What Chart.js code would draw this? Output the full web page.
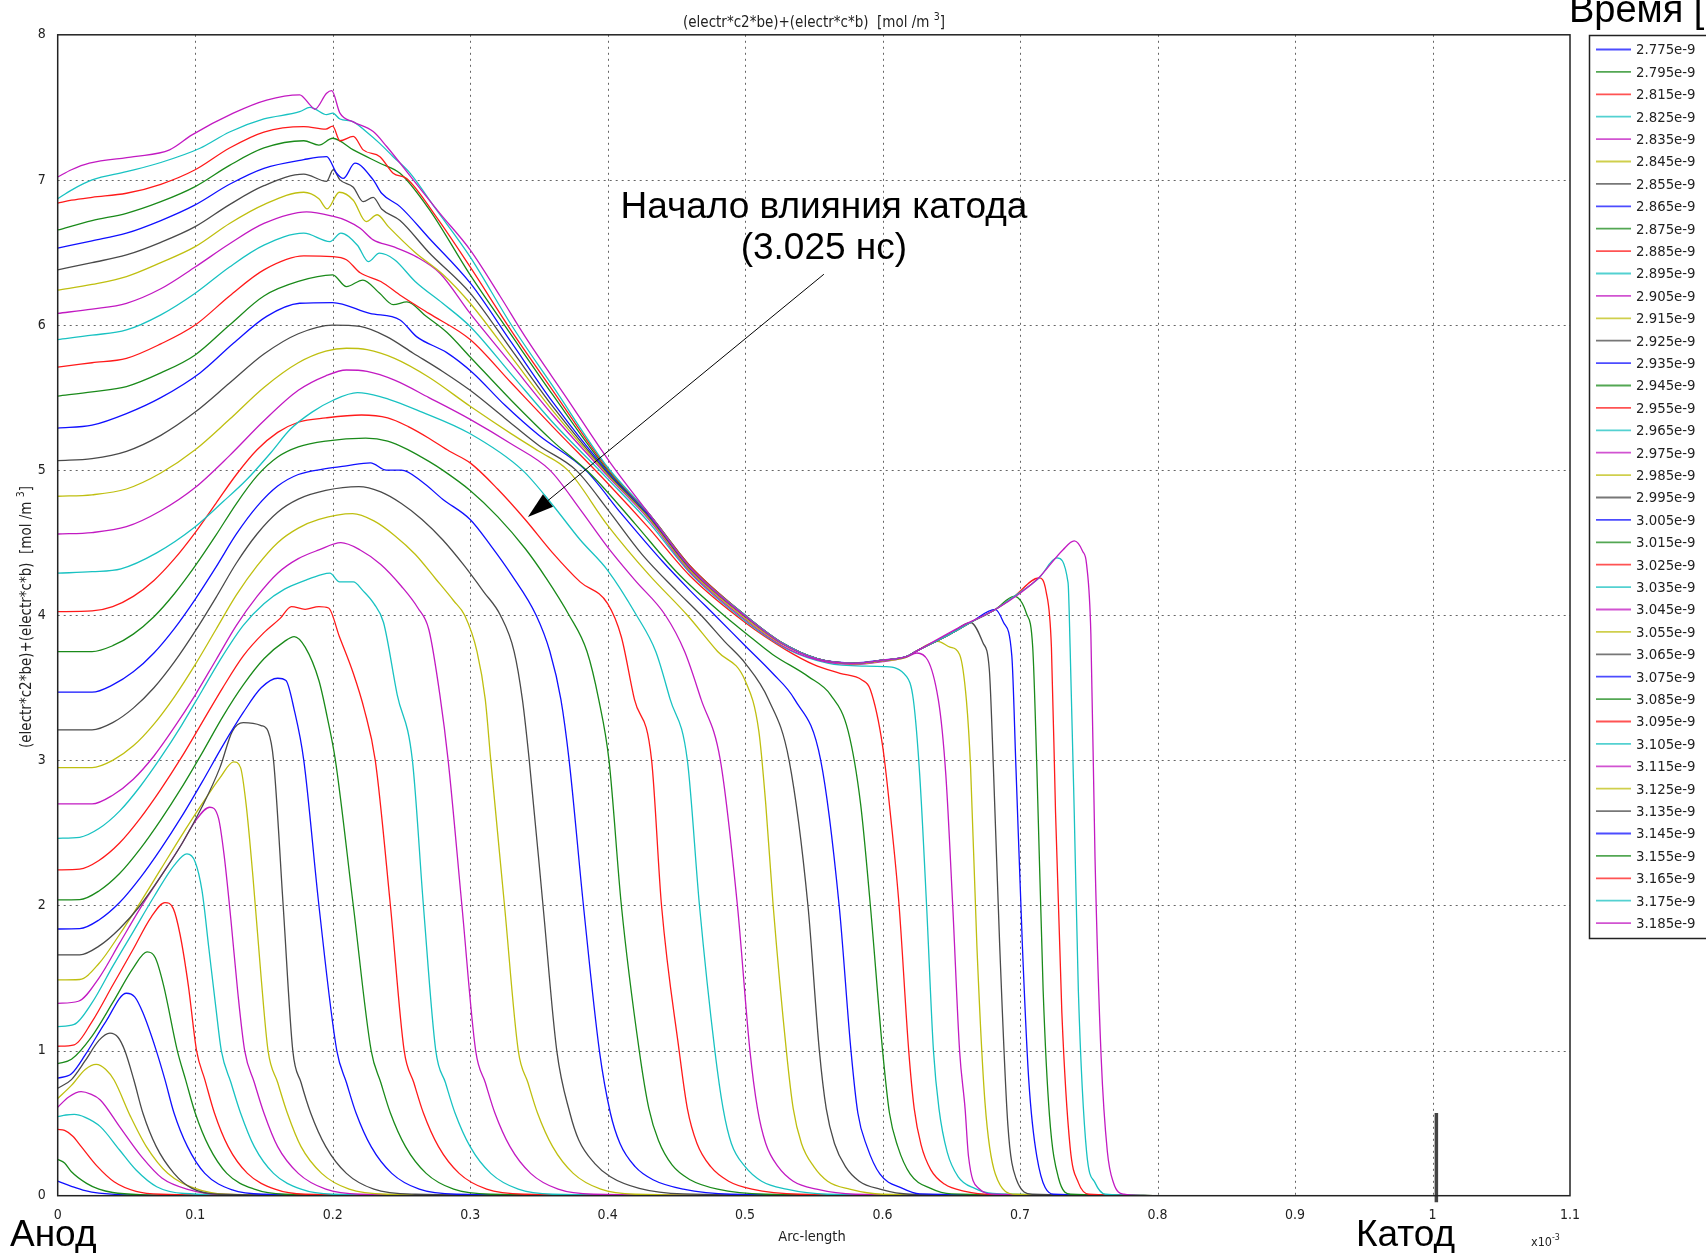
<!DOCTYPE html>
<html>
<head>
<meta charset="utf-8">
<script src="https://cdn.jsdelivr.net/npm/chart.js@4.4.1/dist/chart.umd.min.js"></script>
<style>
  html, body { margin: 0; padding: 0; background: #fff; overflow: hidden; }
</style>
</head>
<body>
<canvas id="plot" width="1706" height="1253"></canvas>
<script>
/* ---------- legend labels (time, s) ---------- */
const times = [
  "2.775e-9", "2.795e-9", "2.815e-9", "2.825e-9", "2.835e-9", "2.845e-9", "2.855e-9",
  "2.865e-9", "2.875e-9", "2.885e-9", "2.895e-9", "2.905e-9", "2.915e-9", "2.925e-9",
  "2.935e-9", "2.945e-9", "2.955e-9", "2.965e-9", "2.975e-9", "2.985e-9", "2.995e-9",
  "3.005e-9", "3.015e-9", "3.025e-9", "3.035e-9", "3.045e-9", "3.055e-9", "3.065e-9",
  "3.075e-9", "3.085e-9", "3.095e-9", "3.105e-9", "3.115e-9", "3.125e-9", "3.135e-9",
  "3.145e-9", "3.155e-9", "3.165e-9", "3.175e-9", "3.185e-9"
];

// b g r c m y k, same cycle as the original plot
const palette = ["#1010ff", "#1a8a1a", "#ff1a1a", "#19c2c2", "#c21ac2", "#bfbf10", "#4a4a4a"];

/* ---------- curves: [arc-length x1e-3, value] ---------- */
const t2775 = [[0,0.10],[0.01,0.065],[0.02,0.035],[0.03,0.018],[0.05,0.006],[0.1,0.002],[0.16,0]];
const t2795 = [[0,0.25],[0.005,0.225],[0.01,0.165],[0.021,0.085],[0.03,0.045],[0.04,0.022],[0.06,0.008],[0.12,0.002],[0.2,0]];
const t2815 = [[0,0.457],[0.005,0.45],[0.011,0.41],[0.017,0.34],[0.029,0.2],[0.041,0.096],[0.057,0.03],[0.075,0.01],[0.15,0.002],[0.24,0]];
const t2825 = [[0,0.545],[0.006,0.556],[0.012,0.56],[0.02,0.54],[0.031,0.476],[0.045,0.315],[0.057,0.177],[0.072,0.062],[0.092,0.015],[0.15,0.003],[0.26,0]];
const t2835 = [[0,0.61],[0.008,0.68],[0.017,0.717],[0.024,0.7],[0.031,0.66],[0.045,0.476],[0.061,0.269],[0.076,0.12],[0.096,0.04],[0.115,0.01],[0.2,0.002],[0.3,0]];
const t2845 = [[0,0.67],[0.01,0.76],[0.02,0.87],[0.028,0.905],[0.035,0.87],[0.041,0.797],[0.053,0.545],[0.0645,0.338],[0.08,0.154],[0.1,0.05],[0.122,0.01],[0.2,0.002],[0.32,0]];
const t2855 = [[0,0.74],[0.01,0.8],[0.02,0.93],[0.03,1.07],[0.038,1.12],[0.044,1.09],[0.0488,1.0],[0.0554,0.797],[0.062,0.568],[0.0717,0.338],[0.0846,0.154],[0.0977,0.05],[0.117,0.01],[0.2,0.002],[0.34,0]];
const t2865 = [[0,0.81],[0.01,0.84],[0.02,0.97],[0.035,1.2],[0.05,1.395],[0.056,1.37],[0.062,1.26],[0.0717,1.0],[0.078,0.8],[0.0846,0.57],[0.0944,0.338],[0.107,0.154],[0.127,0.04],[0.15,0.01],[0.25,0.002],[0.36,0]];
const t2875 = [[0,0.91],[0.01,0.94],[0.025,1.1],[0.04,1.33],[0.055,1.57],[0.065,1.68],[0.071,1.64],[0.077,1.45],[0.087,1.0],[0.093,0.8],[0.1,0.57],[0.11,0.338],[0.123,0.154],[0.143,0.045],[0.165,0.01],[0.25,0.002],[0.38,0]];
const t2885 = [[0,1.03],[0.012,1.04],[0.025,1.2],[0.04,1.45],[0.055,1.7],[0.068,1.92],[0.078,2.02],[0.084,1.98],[0.089,1.8],[0.095,1.45],[0.101,1.0],[0.107,0.8],[0.114,0.57],[0.124,0.338],[0.138,0.154],[0.158,0.045],[0.18,0.01],[0.28,0.002],[0.4,0]];
const t2895 = [[0,1.165],[0.012,1.18],[0.025,1.33],[0.04,1.58],[0.055,1.82],[0.07,2.06],[0.085,2.28],[0.094,2.355],[0.1,2.3],[0.105,2.1],[0.11,1.7],[0.115,1.3],[0.119,1.0],[0.126,0.78],[0.133,0.57],[0.143,0.338],[0.157,0.154],[0.177,0.045],[0.2,0.01],[0.3,0.002],[0.42,0]];
const t2905 = [[0,1.326],[0.015,1.34],[0.03,1.5],[0.045,1.74],[0.06,1.98],[0.075,2.2],[0.09,2.42],[0.1,2.58],[0.1106,2.677],[0.117,2.6],[0.121,2.35],[0.126,1.9],[0.131,1.4],[0.136,1.0],[0.143,0.78],[0.15,0.57],[0.16,0.338],[0.175,0.154],[0.195,0.045],[0.22,0.01],[0.32,0.002],[0.44,0]];
const t2915 = [[0,1.487],[0.016,1.49],[0.03,1.6],[0.045,1.8],[0.06,2.02],[0.075,2.25],[0.09,2.48],[0.105,2.7],[0.118,2.88],[0.128,2.99],[0.133,2.95],[0.137,2.7],[0.142,2.2],[0.148,1.5],[0.153,1.0],[0.16,0.78],[0.167,0.57],[0.177,0.338],[0.192,0.154],[0.212,0.045],[0.24,0.01],[0.34,0.002],[0.46,0]];
const t2925 = [[0,1.66],[0.016,1.66],[0.03,1.72],[0.045,1.84],[0.06,2.0],[0.075,2.2],[0.09,2.42],[0.105,2.68],[0.118,2.95],[0.127,3.2],[0.135,3.26],[0.148,3.24],[0.153,3.2],[0.157,3.0],[0.164,2.0],[0.171,1.0],[0.177,0.78],[0.184,0.57],[0.195,0.338],[0.21,0.154],[0.23,0.045],[0.26,0.01],[0.36,0.002],[0.48,0]];
const t2935 = [[0,1.838],[0.016,1.84],[0.03,1.9],[0.045,2.02],[0.06,2.19],[0.075,2.39],[0.09,2.61],[0.105,2.85],[0.12,3.1],[0.135,3.33],[0.148,3.5],[0.16,3.566],[0.166,3.55],[0.172,3.35],[0.179,3.0],[0.19,2.0],[0.203,1.0],[0.21,0.78],[0.217,0.57],[0.228,0.338],[0.243,0.154],[0.263,0.045],[0.29,0.01],[0.4,0.002],[0.5,0]];
const t2945 = [[0,2.038],[0.016,2.04],[0.03,2.1],[0.045,2.22],[0.06,2.39],[0.075,2.59],[0.09,2.81],[0.105,3.05],[0.12,3.3],[0.135,3.52],[0.15,3.7],[0.165,3.82],[0.172,3.853],[0.18,3.78],[0.19,3.55],[0.196,3.3],[0.202,3.0],[0.215,2.0],[0.228,1.0],[0.235,0.78],[0.242,0.57],[0.253,0.338],[0.268,0.154],[0.288,0.045],[0.315,0.01],[0.42,0.002],[0.52,0]];
const t2955 = [[0,2.245],[0.016,2.25],[0.03,2.31],[0.045,2.43],[0.06,2.6],[0.075,2.8],[0.09,3.02],[0.105,3.26],[0.12,3.5],[0.135,3.72],[0.15,3.88],[0.162,3.98],[0.17,4.06],[0.18,4.04],[0.19,4.06],[0.197,4.05],[0.205,3.85],[0.215,3.6],[0.223,3.35],[0.231,3.0],[0.242,2.0],[0.252,1.0],[0.259,0.78],[0.266,0.57],[0.277,0.338],[0.292,0.154],[0.312,0.045],[0.34,0.01],[0.44,0.002],[0.54,0]];
const t2965 = [[0,2.463],[0.016,2.47],[0.03,2.53],[0.045,2.65],[0.06,2.82],[0.075,3.02],[0.09,3.24],[0.105,3.48],[0.12,3.72],[0.135,3.93],[0.15,4.08],[0.165,4.18],[0.18,4.24],[0.192,4.28],[0.198,4.29],[0.205,4.23],[0.215,4.23],[0.222,4.17],[0.23,4.08],[0.237,3.95],[0.247,3.45],[0.258,3.0],[0.266,2.0],[0.275,1.0],[0.282,0.78],[0.289,0.57],[0.3,0.338],[0.315,0.154],[0.335,0.045],[0.36,0.01],[0.46,0.002],[0.56,0]];
const t2975 = [[0,2.7],[0.025,2.7],[0.04,2.76],[0.055,2.87],[0.07,3.03],[0.085,3.23],[0.1,3.45],[0.115,3.69],[0.13,3.93],[0.145,4.13],[0.16,4.29],[0.175,4.39],[0.19,4.45],[0.206,4.5],[0.22,4.45],[0.235,4.35],[0.25,4.2],[0.262,4.05],[0.27,3.9],[0.278,3.45],[0.284,3.0],[0.294,2.0],[0.304,1.0],[0.311,0.78],[0.318,0.57],[0.329,0.338],[0.344,0.154],[0.364,0.045],[0.39,0.01],[0.5,0.002],[0.6,0]];
const t2985 = [[0,2.95],[0.025,2.95],[0.04,3.0],[0.055,3.1],[0.07,3.25],[0.085,3.44],[0.1,3.66],[0.115,3.9],[0.13,4.14],[0.145,4.34],[0.16,4.5],[0.175,4.6],[0.19,4.66],[0.2145,4.7],[0.23,4.65],[0.245,4.55],[0.26,4.42],[0.275,4.25],[0.288,4.1],[0.296,4.0],[0.305,3.75],[0.311,3.42],[0.315,3.0],[0.325,2.0],[0.335,1.0],[0.342,0.78],[0.349,0.57],[0.36,0.338],[0.375,0.154],[0.395,0.045],[0.42,0.01],[0.52,0.002],[0.62,0]];
const t2995 = [[0,3.21],[0.025,3.21],[0.04,3.26],[0.055,3.36],[0.07,3.5],[0.085,3.68],[0.1,3.89],[0.115,4.12],[0.13,4.36],[0.145,4.56],[0.16,4.71],[0.175,4.8],[0.195,4.86],[0.219,4.886],[0.235,4.85],[0.25,4.77],[0.265,4.66],[0.28,4.52],[0.295,4.35],[0.31,4.16],[0.322,4.0],[0.332,3.75],[0.338,3.42],[0.343,3.0],[0.353,2.0],[0.363,1.0],[0.3726,0.568],[0.379,0.384],[0.3905,0.223],[0.402,0.131],[0.423,0.051],[0.455,0.012],[0.55,0.002],[0.65,0]];
const t3005 = [[0,3.47],[0.025,3.47],[0.04,3.52],[0.055,3.61],[0.07,3.74],[0.085,3.91],[0.1,4.11],[0.115,4.33],[0.13,4.56],[0.145,4.75],[0.16,4.89],[0.175,4.97],[0.195,5.01],[0.21,5.03],[0.2275,5.05],[0.239,5.0],[0.25,5.0],[0.265,4.92],[0.28,4.8],[0.3,4.66],[0.315,4.48],[0.33,4.28],[0.348,4.0],[0.358,3.75],[0.366,3.42],[0.372,3.0],[0.3824,2.0],[0.394,1.0],[0.402,0.57],[0.409,0.36],[0.42,0.2],[0.433,0.11],[0.455,0.045],[0.49,0.01],[0.6,0.002],[0.68,0]];
const t3015 = [[0,3.75],[0.025,3.75],[0.04,3.79],[0.055,3.87],[0.07,3.99],[0.085,4.15],[0.1,4.34],[0.115,4.55],[0.13,4.77],[0.145,4.96],[0.16,5.09],[0.175,5.16],[0.195,5.2],[0.224,5.22],[0.24,5.2],[0.255,5.14],[0.27,5.06],[0.28,5.0],[0.3,4.86],[0.32,4.68],[0.34,4.46],[0.355,4.26],[0.372,4.0],[0.385,3.75],[0.3935,3.42],[0.401,3.0],[0.41,2.0],[0.423,1.0],[0.43,0.6],[0.437,0.38],[0.447,0.21],[0.46,0.11],[0.48,0.045],[0.515,0.01],[0.62,0.002],[0.7,0]];
const t3025 = [[0,4.025],[0.025,4.03],[0.04,4.06],[0.055,4.13],[0.07,4.24],[0.085,4.39],[0.1,4.57],[0.115,4.77],[0.13,4.97],[0.145,5.14],[0.16,5.26],[0.175,5.33],[0.195,5.36],[0.221,5.38],[0.24,5.36],[0.255,5.3],[0.27,5.22],[0.285,5.13],[0.3,5.05],[0.32,4.87],[0.34,4.66],[0.36,4.43],[0.38,4.23],[0.4,4.08],[0.41,3.85],[0.4195,3.42],[0.432,3.0],[0.4392,2.0],[0.452,1.0],[0.458,0.6],[0.465,0.36],[0.475,0.2],[0.488,0.1],[0.505,0.045],[0.54,0.01],[0.64,0.002],[0.72,0]];
const t3035 = [[0,4.29],[0.025,4.3],[0.046,4.32],[0.072,4.43],[0.1,4.61],[0.12,4.78],[0.137,4.93],[0.155,5.12],[0.169,5.28],[0.185,5.4],[0.2,5.48],[0.218,5.534],[0.2345,5.507],[0.265,5.4],[0.2994,5.254],[0.338,5.0],[0.36,4.76],[0.38,4.52],[0.4,4.31],[0.421,4.0],[0.435,3.75],[0.4455,3.42],[0.458,3.0],[0.4668,2.0],[0.478,1.0],[0.484,0.6],[0.49,0.36],[0.5,0.2],[0.512,0.1],[0.53,0.045],[0.56,0.01],[0.66,0.002],[0.74,0]];
const t3045 = [[0,4.56],[0.025,4.57],[0.05,4.61],[0.075,4.72],[0.1,4.88],[0.125,5.1],[0.15,5.34],[0.175,5.55],[0.195,5.65],[0.21,5.69],[0.225,5.68],[0.245,5.62],[0.27,5.5],[0.3,5.35],[0.33,5.18],[0.358,5.0],[0.38,4.73],[0.4,4.47],[0.42,4.24],[0.442,4.0],[0.456,3.75],[0.468,3.42],[0.482,3.0],[0.4944,2.0],[0.5035,1.0],[0.509,0.6],[0.515,0.36],[0.524,0.2],[0.535,0.1],[0.552,0.045],[0.58,0.01],[0.68,0.002],[0.76,0]];
const t3055 = [[0,4.82],[0.025,4.83],[0.05,4.87],[0.075,4.98],[0.1,5.14],[0.125,5.35],[0.15,5.57],[0.175,5.74],[0.195,5.82],[0.21,5.84],[0.225,5.83],[0.245,5.77],[0.27,5.64],[0.3,5.44],[0.33,5.25],[0.35,5.13],[0.371,5.0],[0.4,4.62],[0.43,4.28],[0.458,4.0],[0.48,3.75],[0.5,3.55],[0.51,3.2],[0.515,2.7],[0.5204,2.0],[0.53,1.0],[0.535,0.6],[0.541,0.36],[0.55,0.2],[0.56,0.1],[0.576,0.045],[0.6,0.01],[0.7,0.002],[0.77,0]];
const t3065 = [[0,5.066],[0.025,5.08],[0.05,5.13],[0.075,5.24],[0.1,5.4],[0.125,5.6],[0.15,5.8],[0.175,5.94],[0.2,6.0],[0.22,5.99],[0.2393,5.92],[0.2586,5.806],[0.28,5.68],[0.3,5.55],[0.325,5.36],[0.35,5.17],[0.377,5.0],[0.4,4.73],[0.425,4.42],[0.45,4.17],[0.468,4.0],[0.485,3.82],[0.5,3.67],[0.517,3.42],[0.532,3.0],[0.5457,2.0],[0.554,1.0],[0.559,0.6],[0.565,0.36],[0.573,0.2],[0.583,0.1],[0.598,0.045],[0.62,0.01],[0.72,0.002],[0.78,0]];
const t3075 = [[0,5.29],[0.025,5.31],[0.05,5.39],[0.075,5.5],[0.1035,5.67],[0.128,5.876],[0.152,6.06],[0.176,6.15],[0.2,6.155],[0.227,6.08],[0.249,6.035],[0.261,5.92],[0.283,5.81],[0.302,5.67],[0.325,5.45],[0.35,5.24],[0.384,5.0],[0.41,4.7],[0.44,4.37],[0.46,4.17],[0.478,4.0],[0.5,3.79],[0.52,3.6],[0.536,3.42],[0.555,3.0],[0.5684,2.0],[0.577,1.0],[0.582,0.57],[0.5886,0.34],[0.598,0.15],[0.6145,0.05],[0.627,0.012],[0.72,0.002],[0.78,0]];
const t3085 = [[0,5.51],[0.025,5.54],[0.05,5.576],[0.075,5.67],[0.1,5.794],[0.125,6.0],[0.15,6.2],[0.175,6.3],[0.2,6.345],[0.21,6.265],[0.222,6.31],[0.234,6.22],[0.244,6.14],[0.254,6.16],[0.268,6.06],[0.283,5.95],[0.3,5.78],[0.33,5.48],[0.36,5.2],[0.389,4.96],[0.42,4.63],[0.45,4.3],[0.4845,4.0],[0.5,3.88],[0.52,3.73],[0.546,3.577],[0.5623,3.45],[0.575,3.2],[0.584,2.7],[0.5911,2.0],[0.6,1.0],[0.605,0.57],[0.611,0.34],[0.62,0.15],[0.635,0.05],[0.65,0.012],[0.74,0.002],[0.79,0]];
const t3095 = [[0,5.71],[0.025,5.74],[0.05,5.77],[0.075,5.87],[0.1,6.0],[0.125,6.2],[0.15,6.38],[0.179,6.476],[0.2,6.472],[0.21,6.45],[0.22,6.36],[0.235,6.3],[0.25,6.2],[0.27,6.08],[0.3,5.9],[0.33,5.6],[0.36,5.3],[0.4,4.91],[0.43,4.6],[0.46,4.27],[0.5,3.95],[0.53,3.76],[0.55,3.66],[0.569,3.6],[0.585,3.554],[0.591,3.49],[0.6,3.1],[0.606,2.6],[0.612,2.0],[0.619,1.0],[0.623,0.6],[0.628,0.35],[0.635,0.18],[0.645,0.08],[0.66,0.03],[0.68,0.008],[0.76,0.002],[0.8,0]];
const t3105 = [[0,5.9],[0.025,5.93],[0.05,5.966],[0.075,6.07],[0.1,6.219],[0.125,6.4],[0.15,6.55],[0.179,6.633],[0.198,6.575],[0.206,6.633],[0.218,6.55],[0.226,6.437],[0.234,6.495],[0.245,6.45],[0.26,6.3],[0.28,6.15],[0.3,5.99],[0.33,5.66],[0.36,5.33],[0.4,4.94],[0.43,4.64],[0.46,4.29],[0.5,3.96],[0.53,3.77],[0.56,3.67],[0.585,3.65],[0.6013,3.646],[0.6175,3.577],[0.6224,3.416],[0.627,2.9],[0.632,2.0],[0.637,1.0],[0.641,0.6],[0.647,0.3],[0.655,0.13],[0.667,0.05],[0.68,0.015],[0.76,0.002],[0.8,0]];
const t3115 = [[0,6.08],[0.025,6.11],[0.05,6.15],[0.075,6.25],[0.1,6.4],[0.125,6.56],[0.15,6.7],[0.181,6.78],[0.2,6.75],[0.21,6.72],[0.22,6.667],[0.2295,6.587],[0.244,6.54],[0.261,6.47],[0.278,6.357],[0.3,6.08],[0.33,5.73],[0.36,5.38],[0.4,4.96],[0.43,4.66],[0.46,4.3],[0.5,3.97],[0.527,3.79],[0.553,3.69],[0.58,3.66],[0.6,3.68],[0.617,3.71],[0.625,3.74],[0.6405,3.42],[0.646,2.9],[0.651,2.0],[0.656,1.0],[0.66,0.6],[0.6625,0.27],[0.67,0.05],[0.682,0.01],[0.76,0.002],[0.8,0]];
const t3125 = [[0,6.24],[0.025,6.28],[0.05,6.334],[0.075,6.43],[0.1,6.54],[0.125,6.7],[0.15,6.83],[0.179,6.915],[0.19,6.87],[0.196,6.8],[0.2048,6.915],[0.215,6.86],[0.2243,6.713],[0.2324,6.76],[0.2405,6.678],[0.26,6.5],[0.28,6.35],[0.3,6.15],[0.33,5.78],[0.36,5.41],[0.4,4.97],[0.43,4.67],[0.46,4.31],[0.5,3.98],[0.527,3.8],[0.553,3.7],[0.58,3.665],[0.6,3.685],[0.617,3.71],[0.624,3.75],[0.64,3.82],[0.649,3.78],[0.656,3.73],[0.661,3.41],[0.664,2.95],[0.6686,1.72],[0.6745,0.64],[0.682,0.15],[0.697,0.01],[0.76,0.002],[0.8,0]];
const t3135 = [[0,6.38],[0.025,6.43],[0.05,6.483],[0.075,6.57],[0.1,6.678],[0.125,6.83],[0.15,6.96],[0.179,7.04],[0.1956,6.99],[0.2004,7.07],[0.2053,7.0],[0.215,6.95],[0.2222,6.85],[0.2295,6.88],[0.2356,6.8],[0.249,6.72],[0.27,6.5],[0.3,6.22],[0.33,5.83],[0.36,5.44],[0.4,4.98],[0.43,4.68],[0.46,4.32],[0.5,3.99],[0.527,3.805],[0.553,3.7],[0.58,3.67],[0.6,3.69],[0.617,3.715],[0.624,3.75],[0.649,3.87],[0.664,3.95],[0.673,3.81],[0.6776,3.63],[0.6806,2.95],[0.6852,1.72],[0.6911,0.49],[0.697,0.12],[0.709,0.01],[0.78,0.002],[0.8,0]];
const t3145 = [[0,6.53],[0.025,6.58],[0.05,6.633],[0.075,6.72],[0.1,6.828],[0.125,6.97],[0.15,7.08],[0.179,7.14],[0.1956,7.16],[0.2029,7.046],[0.2077,7.01],[0.2162,7.115],[0.2295,7.0],[0.2356,6.908],[0.249,6.816],[0.27,6.6],[0.3,6.29],[0.33,5.88],[0.36,5.47],[0.4,4.99],[0.43,4.69],[0.46,4.33],[0.5,4.0],[0.527,3.81],[0.553,3.7],[0.58,3.672],[0.6,3.692],[0.617,3.715],[0.624,3.75],[0.649,3.87],[0.664,3.95],[0.682,4.04],[0.688,3.95],[0.694,3.72],[0.697,2.95],[0.7017,1.72],[0.7063,0.8],[0.7122,0.27],[0.7243,0.01],[0.78,0.002],[0.8,0]];
const t3155 = [[0,6.655],[0.025,6.72],[0.05,6.77],[0.075,6.85],[0.1,6.954],[0.125,7.1],[0.15,7.22],[0.179,7.27],[0.19,7.24],[0.2,7.287],[0.215,7.207],[0.2344,7.115],[0.249,7.046],[0.27,6.8],[0.3,6.345],[0.33,5.93],[0.36,5.52],[0.4,5.0],[0.43,4.7],[0.46,4.34],[0.5,4.0],[0.527,3.81],[0.553,3.7],[0.58,3.67],[0.6,3.69],[0.617,3.715],[0.624,3.75],[0.649,3.87],[0.664,3.95],[0.682,4.04],[0.6957,4.13],[0.7047,4.01],[0.7092,3.78],[0.7122,2.95],[0.7168,1.41],[0.7214,0.55],[0.728,0.12],[0.737,0.01],[0.79,0.002],[0.8,0]];
const t3165 = [[0,6.84],[0.01,6.86],[0.025,6.88],[0.05,6.908],[0.075,6.97],[0.1,7.07],[0.125,7.22],[0.15,7.33],[0.179,7.367],[0.195,7.35],[0.2,7.37],[0.2053,7.27],[0.215,7.3],[0.2222,7.207],[0.2344,7.16],[0.244,7.046],[0.2538,7.01],[0.275,6.75],[0.3,6.4],[0.33,5.96],[0.36,5.55],[0.4,5.01],[0.43,4.7],[0.46,4.34],[0.5,4.0],[0.527,3.81],[0.553,3.7],[0.58,3.67],[0.6,3.69],[0.617,3.715],[0.624,3.75],[0.649,3.87],[0.664,3.95],[0.682,4.04],[0.6957,4.13],[0.7138,4.257],[0.7189,4.164],[0.7228,3.78],[0.7258,2.64],[0.7304,1.26],[0.7364,0.335],[0.7424,0.09],[0.75,0.01],[0.79,0.002],[0.8,0]];
const t3175 = [[0,6.87],[0.01,6.93],[0.025,7.0],[0.05,7.057],[0.075,7.12],[0.1035,7.218],[0.125,7.33],[0.15,7.42],[0.176,7.47],[0.1835,7.5],[0.187,7.49],[0.1956,7.45],[0.2,7.46],[0.2053,7.42],[0.215,7.4],[0.2247,7.33],[0.2344,7.25],[0.244,7.16],[0.256,7.05],[0.275,6.8],[0.3,6.47],[0.33,6.0],[0.36,5.58],[0.4,5.02],[0.43,4.7],[0.46,4.33],[0.5,4.0],[0.527,3.81],[0.553,3.7],[0.58,3.67],[0.6,3.69],[0.617,3.715],[0.624,3.75],[0.649,3.87],[0.664,3.95],[0.682,4.04],[0.6957,4.13],[0.7138,4.257],[0.7268,4.395],[0.7349,4.225],[0.7364,3.78],[0.7394,2.64],[0.7424,1.41],[0.7484,0.3],[0.7545,0.09],[0.762,0.01],[0.79,0.002],[0.8,0]];
const t3185 = [[0,7.02],[0.01,7.07],[0.023,7.115],[0.0555,7.16],[0.0814,7.207],[0.0977,7.31],[0.1277,7.46],[0.152,7.55],[0.176,7.586],[0.1835,7.517],[0.187,7.487],[0.1956,7.597],[0.1993,7.615],[0.2053,7.46],[0.215,7.4],[0.2295,7.333],[0.2393,7.23],[0.2586,7.0],[0.278,6.77],[0.3,6.518],[0.3217,6.2],[0.34,5.92],[0.37,5.5],[0.402,5.05],[0.43,4.7],[0.4617,4.31],[0.5006,3.99],[0.5266,3.807],[0.5526,3.697],[0.5785,3.669],[0.6013,3.692],[0.6175,3.715],[0.624,3.749],[0.6565,3.92],[0.682,4.04],[0.7,4.152],[0.7138,4.26],[0.7311,4.45],[0.7394,4.512],[0.7455,4.441],[0.7484,4.349],[0.7515,3.871],[0.7545,2.334],[0.759,0.949],[0.7635,0.303],[0.768,0.088],[0.7755,0.01],[0.79,0]];

const curves = [
  t2775, t2795, t2815, t2825, t2835, t2845, t2855, t2865, t2875, t2885,
  t2895, t2905, t2915, t2925, t2935, t2945, t2955, t2965, t2975, t2985,
  t2995, t3005, t3015, t3025, t3035, t3045, t3055, t3065, t3075, t3085,
  t3095, t3105, t3115, t3125, t3135, t3145, t3155, t3165, t3175, t3185
];

// short thick marker standing on the axis at the cathode
const cathodeMark = [[1.0028, 0.57], [1.0028, -0.045]];

// arrow of the note, in data units (tail, head)
const noteTail = [0.5573, 6.35];
const noteHead = [0.342, 4.677];

/* ---------- fonts ---------- */
const condensed = "'DejaVu Sans Condensed', 'DejaVu Sans', sans-serif";
const arial = "'Liberation Sans', Arial, sans-serif";

/* ---------- datasets ---------- */
const datasets = curves.map((pts, i) => ({
  label: times[i],
  data: pts.map(p => ({ x: p[0], y: p[1] })),
  borderColor: palette[i % palette.length],
  borderWidth: 1.3,
  pointRadius: 0,
  fill: false,
  cubicInterpolationMode: "monotone",
  order: curves.length - i + 1
}));
datasets.push({
  label: "cathode",
  data: cathodeMark.map(p => ({ x: p[0], y: p[1] })),
  borderColor: "#444",
  borderWidth: 3.5,
  pointRadius: 0,
  clip: false,
  order: 0
});

/* ---------- helpers ---------- */
function textWithSup(ctx, parts, x, y, align, size) {
  // parts: [text, isSup]
  let total = 0;
  parts.forEach(([t, sup]) => {
    ctx.font = (sup ? size * 0.7 : size) + "px " + condensed;
    total += ctx.measureText(t).width;
  });
  let cx = align === "center" ? x - total / 2 : x;
  ctx.textAlign = "left";
  parts.forEach(([t, sup]) => {
    ctx.font = (sup ? size * 0.7 : size) + "px " + condensed;
    ctx.fillText(t, cx, sup ? y - size * 0.45 : y);
    cx += ctx.measureText(t).width;
  });
}

const decor = {
  id: "decor",
  beforeDatasetsDraw(chart) {
    const { ctx, chartArea: a, scales: { x, y } } = chart;
    ctx.save();
    ctx.strokeStyle = "#666";
    ctx.lineWidth = 1;
    ctx.setLineDash([2, 4]);
    x.ticks.forEach(t => {
      const px = Math.round(x.getPixelForValue(t.value)) + 0.5;
      if (px <= a.left + 2 || px >= a.right - 2) return;
      ctx.beginPath(); ctx.moveTo(px, a.top); ctx.lineTo(px, a.bottom); ctx.stroke();
    });
    y.ticks.forEach(t => {
      const py = Math.round(y.getPixelForValue(t.value)) + 0.5;
      if (py <= a.top + 2 || py >= a.bottom - 2) return;
      ctx.beginPath(); ctx.moveTo(a.left, py); ctx.lineTo(a.right, py); ctx.stroke();
    });
    ctx.restore();
  },
  afterDraw(chart) {
    const { ctx, chartArea: a, scales: { x, y } } = chart;
    ctx.save();

    // frame
    ctx.strokeStyle = "#222";
    ctx.lineWidth = 1.5;
    ctx.setLineDash([]);
    ctx.strokeRect(a.left, a.top, a.right - a.left, a.bottom - a.top);

    ctx.fillStyle = "#222";
    ctx.textBaseline = "alphabetic";

    // title and axis labels
    const label = [["(electr*c2*be)+(electr*c*b)  [mol /m ", false], ["3", true], ["]", false]];
    textWithSup(ctx, label, 814, 27, "center", 15);

    ctx.save();
    ctx.translate(31, 617);
    ctx.rotate(-Math.PI / 2);
    textWithSup(ctx, label, 0, 0, "center", 15);
    ctx.restore();

    ctx.font = "14.5px " + condensed;
    ctx.textAlign = "center";
    ctx.fillText("Arc-length", 812, 1241);
    textWithSup(ctx, [["x10", false], ["-3", true]], 1531, 1246, "left", 12.5);

    // big labels
    ctx.fillStyle = "#000";
    ctx.font = "37px " + arial;
    ctx.textAlign = "left";
    ctx.fillText("Анод", 10, 1246);
    ctx.fillText("Катод", 1356, 1246);

    // note with arrow
    ctx.font = "37px " + arial;
    ctx.textAlign = "center";
    const nx = x.getPixelForValue(noteTail[0]);
    ctx.fillText("Начало влияния катода", nx, 218);
    ctx.fillText("(3.025 нс)", nx, 259);

    const x0 = x.getPixelForValue(noteTail[0]), y0 = y.getPixelForValue(noteTail[1]);
    const x1 = x.getPixelForValue(noteHead[0]), y1 = y.getPixelForValue(noteHead[1]);
    const ang = Math.atan2(y1 - y0, x1 - x0);
    const hl = 26, hw = 8;
    const bx = x1 - hl * Math.cos(ang), by = y1 - hl * Math.sin(ang);
    ctx.strokeStyle = "#000";
    ctx.lineWidth = 1;
    ctx.beginPath(); ctx.moveTo(x0, y0); ctx.lineTo(bx, by); ctx.stroke();
    ctx.beginPath();
    ctx.moveTo(x1, y1);
    ctx.lineTo(bx + hw * Math.sin(ang), by - hw * Math.cos(ang));
    ctx.lineTo(bx - hw * Math.sin(ang), by + hw * Math.cos(ang));
    ctx.closePath();
    ctx.fillStyle = "#000";
    ctx.fill();

    // legend
    ctx.font = "38px " + arial;
    ctx.textAlign = "left";
    ctx.fillText("Время [с]", 1569, 22);

    ctx.strokeStyle = "#222";
    ctx.lineWidth = 1.5;
    ctx.strokeRect(1589.5, 35.5, 118, 903);
    ctx.font = "14.8px " + condensed;
    ctx.textBaseline = "middle";
    times.forEach((t, i) => {
      const ly = 49.5 + i * 22.4;
      ctx.strokeStyle = palette[i % palette.length];
      ctx.globalAlpha = 0.75;
      ctx.lineWidth = 1.8;
      ctx.beginPath(); ctx.moveTo(1596, ly); ctx.lineTo(1631, ly); ctx.stroke();
      ctx.globalAlpha = 1;
      ctx.fillStyle = "#222";
      ctx.fillText(t, 1636, ly + 1);
    });

    ctx.restore();
  }
};

/* ---------- chart ---------- */
new Chart(document.getElementById("plot"), {
  type: "line",
  data: { datasets },
  options: {
    responsive: false,
    animation: false,
    devicePixelRatio: 1,
    layout: { padding: { left: 0, right: 136, top: 34.8, bottom: 0 } },
    plugins: { legend: { display: false }, tooltip: { enabled: false } },
    scales: {
      x: {
        type: "linear",
        min: 0,
        max: 1.1,
        ticks: {
          stepSize: 0.1,
          autoSkip: false,
          maxRotation: 0,
          padding: 3,
          color: "#222",
          font: { family: condensed, size: 14 },
          callback: v => String(+v.toFixed(1))
        },
        grid: { display: false },
        border: { display: false },
        afterFit: s => { s.height = 57.3; }
      },
      y: {
        min: 0,
        max: 8,
        ticks: {
          stepSize: 1,
          padding: 4,
          color: "#222",
          font: { family: condensed, size: 14 }
        },
        grid: { display: false },
        border: { display: false },
        afterFit: s => { s.width = 57.7; }
      }
    }
  },
  plugins: [decor]
});
</script>
</body>
</html>
